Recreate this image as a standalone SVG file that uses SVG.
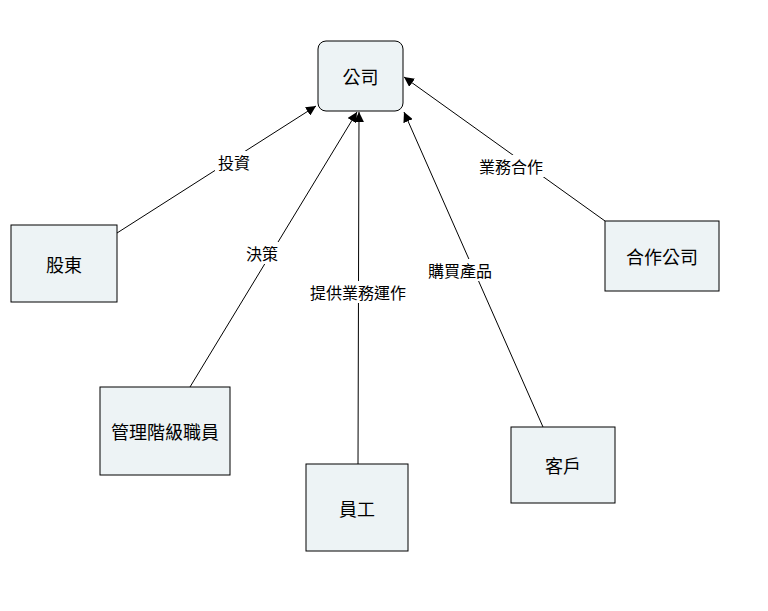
<svg xmlns="http://www.w3.org/2000/svg" width="768" height="611" viewBox="0 0 768 611">
<style>
.n{fill:#edf3f5;stroke:#000;stroke-width:1}
.t{font-family:"Noto Sans CJK TC","Liberation Sans",sans-serif;font-size:18px;fill:#000;text-anchor:middle;dominant-baseline:central}
.l{font-family:"Noto Sans CJK TC","Liberation Sans",sans-serif;font-size:16px;fill:#000;text-anchor:middle;dominant-baseline:central}
.e{stroke:#000;stroke-width:1;fill:none;marker-end:url(#a)}
.bg{fill:#fff}
</style>
<defs>
<marker id="a" viewBox="0 0 10 10" refX="10" refY="5" markerWidth="10" markerHeight="10" markerUnits="userSpaceOnUse" orient="auto">
<path d="M0,0 L10,5 L0,10 z" fill="#000"/>
</marker>
</defs>
<rect width="768" height="611" fill="#fff"/>
<g id="edges">
<line class="e" x1="117" y1="233" x2="316" y2="106"/>
<line class="e" x1="190" y1="387" x2="357" y2="112"/>
<line class="e" x1="358" y1="464" x2="359" y2="112"/>
<line class="e" x1="543" y1="427" x2="404" y2="112"/>
<line class="e" x1="605" y1="221" x2="404" y2="77"/>
<rect class="bg" x="215" y="151" width="38" height="22"/>
<text class="l" x="234" y="162">投資</text>
<rect class="bg" x="243" y="242" width="38" height="22"/>
<text class="l" x="262" y="253">決策</text>
<rect class="bg" x="308" y="281" width="100" height="22"/>
<text class="l" x="358" y="292">提供業務運作</text>
<rect class="bg" x="426" y="259" width="68" height="22"/>
<text class="l" x="460" y="270">購買產品</text>
<rect class="bg" x="477" y="155" width="68" height="22"/>
<text class="l" x="511" y="166">業務合作</text>
</g>
<g id="company"><rect class="n" x="318" y="41" width="85" height="70" rx="8"/><text class="t" x="360.5" y="76">公司</text></g>
<g id="shareholders"><rect class="n" x="11" y="225" width="106" height="77"/><text class="t" x="64" y="263.5">股東</text></g>
<g id="partner"><rect class="n" x="605" y="221" width="114" height="70"/><text class="t" x="662" y="256">合作公司</text></g>
<g id="management"><rect class="n" x="100" y="387" width="130" height="88"/><text class="t" x="165" y="431">管理階級職員</text></g>
<g id="employee"><rect class="n" x="306" y="464" width="102" height="87"/><text class="t" x="357" y="507.5">員工</text></g>
<g id="customer"><rect class="n" x="511" y="427" width="104" height="76"/><text class="t" x="563" y="465">客戶</text></g>
</svg>
